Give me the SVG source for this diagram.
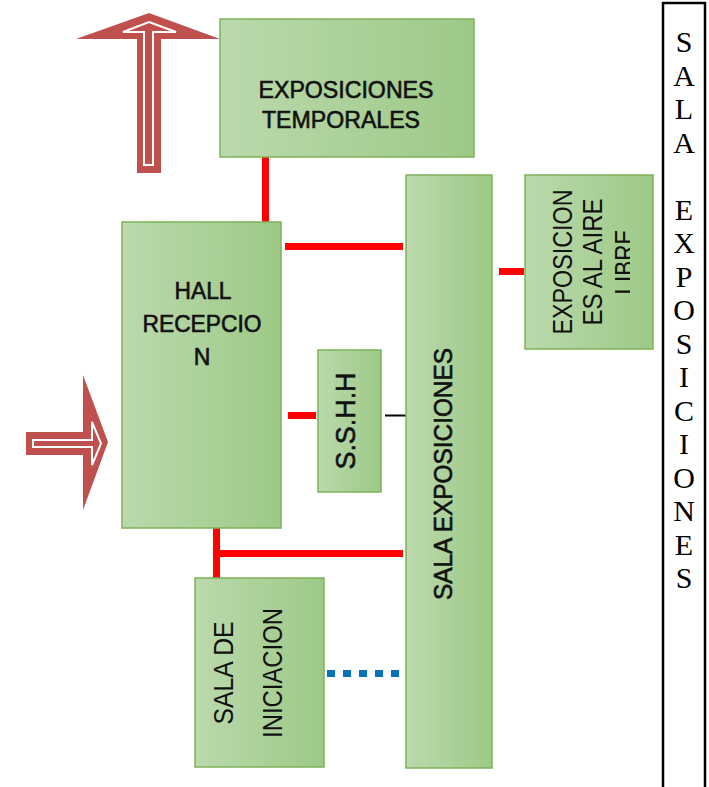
<svg xmlns="http://www.w3.org/2000/svg" width="709" height="787" viewBox="0 0 709 787">
<defs>
<linearGradient id="g" x1="0" y1="0" x2="1" y2="0">
<stop offset="0" stop-color="#bbd9ad"/>
<stop offset="1" stop-color="#9dc986"/>
</linearGradient>
<clipPath id="clipLibre"><rect x="525" y="175" width="105" height="174"/></clipPath>
<style>
.box{fill:url(#g);stroke:#7db35a;stroke-width:1.5}
.t{font-family:"Liberation Sans",Arial,sans-serif;fill:#111;text-anchor:middle}
.c{stroke:#111;stroke-width:0.6}
.red{stroke:#ff0000;stroke-width:7;fill:none}
.side{font-family:"Liberation Serif","Times New Roman",serif;font-size:30px;fill:#000;text-anchor:middle}
.arr{fill:#c0504d}
.arrIn{fill:#c0504d;stroke:#fff;stroke-width:2}
</style>
</defs>
<rect width="709" height="787" fill="#fff"/>

<g id="connectors">
<line class="red" x1="265.5" y1="157" x2="265.5" y2="222"/>
<line class="red" x1="285" y1="246.5" x2="403" y2="246.5"/>
<line class="red" x1="499" y1="271.5" x2="524" y2="271.5"/>
<line class="red" x1="288" y1="415.5" x2="316" y2="415.5"/>
<line x1="385" y1="415.5" x2="406" y2="415.5" stroke="#000" stroke-width="2"/>
<line class="red" x1="216.5" y1="528" x2="216.5" y2="578"/>
<line class="red" x1="213" y1="553.5" x2="403" y2="553.5"/>
<line x1="327" y1="673.5" x2="400" y2="673.5" stroke="#0070c0" stroke-width="7" stroke-dasharray="8 8"/>
</g>

<g id="arrow-up">
<polygon class="arr" points="149,13 220,39 161,39 161,173 137,173 137,39 76,39"/>
<polygon class="arrIn" points="149,22 176,32 153,32 153,165 144,165 144,32 123,32"/>
</g>
<g id="arrow-right">
<polygon class="arr" points="26,432 83,432 83,375 108,442 83,510 83,455 26,455"/>
<polygon class="arrIn" points="33,440 92,440 92,422 101,443.5 92,465 92,447 33,447"/>
</g>

<g id="exposiciones-temporales">
<rect class="box" x="220" y="19" width="254" height="138"/>
<text class="t c" x="346" y="98" font-size="24" textLength="175" lengthAdjust="spacingAndGlyphs">EXPOSICIONES</text>
<text class="t c" x="341" y="128" font-size="24" textLength="158" lengthAdjust="spacingAndGlyphs">TEMPORALES</text>
</g>

<g id="hall-recepcion">
<rect class="box" x="122" y="222" width="159" height="306"/>
<text class="t c" x="203" y="299" font-size="23" textLength="57" lengthAdjust="spacingAndGlyphs">HALL</text>
<text class="t c" x="202" y="332" font-size="23" textLength="119" lengthAdjust="spacingAndGlyphs">RECEPCIO</text>
<text class="t c" x="202" y="365" font-size="23">N</text>
</g>

<g id="sala-exposiciones">
<rect class="box" x="406" y="175" width="86" height="593"/>
<text class="t c" transform="translate(452,474) rotate(-90)" font-size="25" textLength="252" lengthAdjust="spacingAndGlyphs">SALA EXPOSICIONES</text>
</g>

<g id="exposiciones-aire-libre">
<rect class="box" x="525" y="175" width="128" height="174"/>
<text class="t" transform="translate(572,262) rotate(-90)" font-size="27" textLength="145" lengthAdjust="spacingAndGlyphs">EXPOSICION</text>
<text class="t" transform="translate(602,262) rotate(-90)" font-size="27" textLength="127" lengthAdjust="spacingAndGlyphs">ES AL AIRE</text>
<g clip-path="url(#clipLibre)">
<text class="t" transform="translate(634,262) rotate(-90)" font-size="27" textLength="65" lengthAdjust="spacingAndGlyphs">LIBRE</text>
</g>
</g>

<g id="sshh">
<rect class="box" x="318" y="350" width="63" height="142"/>
<text class="t c" transform="translate(355,421) rotate(-90)" font-size="27" textLength="97" lengthAdjust="spacingAndGlyphs">S.S.H.H</text>
</g>

<g id="sala-iniciacion">
<rect class="box" x="195" y="578" width="129" height="189"/>
<text class="t" transform="translate(233,673) rotate(-90)" font-size="27" textLength="103" lengthAdjust="spacingAndGlyphs">SALA DE</text>
<text class="t" transform="translate(282,673) rotate(-90)" font-size="27" textLength="130" lengthAdjust="spacingAndGlyphs">INICIACION</text>
</g>

<g id="sala-exposiciones-frame">
<rect x="663" y="3" width="42" height="800" fill="none" stroke="#000" stroke-width="2.5"/>
<text class="side" x="684" y="52">S</text>
<text class="side" x="684" y="85.5">A</text>
<text class="side" x="684" y="119">L</text>
<text class="side" x="684" y="152.5">A</text>
<text class="side" x="684" y="219.5">E</text>
<text class="side" x="684" y="253">X</text>
<text class="side" x="684" y="286.5">P</text>
<text class="side" x="684" y="320">O</text>
<text class="side" x="684" y="353.5">S</text>
<text class="side" x="684" y="387">I</text>
<text class="side" x="684" y="420.5">C</text>
<text class="side" x="684" y="454">I</text>
<text class="side" x="684" y="487.5">O</text>
<text class="side" x="684" y="521">N</text>
<text class="side" x="684" y="554.5">E</text>
<text class="side" x="684" y="588">S</text>
</g>
</svg>
